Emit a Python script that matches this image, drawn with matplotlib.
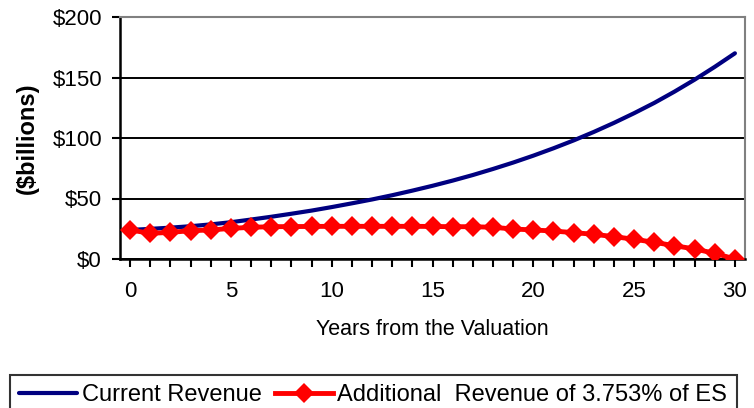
import numpy as np
import matplotlib.pyplot as plt
from matplotlib.ticker import FuncFormatter

plt.rcParams['font.family'] = ['Liberation Sans', 'DejaVu Sans']

years = list(range(31))
current_revenue = [24.0, 24.9, 25.9, 27.1, 28.6, 30.4, 32.6, 34.9, 37.4, 40.0,
                   42.9, 46.0, 49.2, 52.7, 56.5, 60.5, 64.8, 69.4, 74.4, 79.7,
                   85.4, 91.5, 98.0, 105.0, 112.5, 120.5, 129.0, 138.3, 148.2, 158.8,
                   170.0]
additional_revenue = [24.0, 21.2, 22.0, 23.4, 24.0, 25.3, 26.2, 26.7, 26.8, 26.9,
                      27.0, 27.0, 27.0, 27.0, 27.0, 26.9, 26.7, 26.7, 26.2, 24.8,
                      24.0, 23.1, 21.8, 20.4, 18.5, 16.3, 13.8, 11.0, 8.3, 4.7,
                      0.0]

fig = plt.figure(figsize=(7.54, 4.08), dpi=100)
ax = fig.add_axes([120 / 754, 1 - 259 / 408, 625 / 754, 242 / 408])

ax.plot(years, current_revenue, color='#000080', lw=3, solid_capstyle='round',
        label='Current Revenue', zorder=3)
ax.plot(years, additional_revenue, color='#ff0000', lw=3.5, marker='D', markersize=10,
        markeredgewidth=0, label='Additional  Revenue of 3.753% of ES', zorder=4)

ax.set_xlim(-0.5, 30.5)
ax.set_ylim(0, 200)
ax.set_yticks([0, 50, 100, 150, 200])
ax.yaxis.set_major_formatter(FuncFormatter(lambda v, p: '$%d' % v))
ax.set_xticks([0, 5, 10, 15, 20, 25, 30])
ax.set_xticks(years, minor=True)
ax.grid(axis='y', color='black', lw=1.4)
ax.set_axisbelow(True)

ax.tick_params(axis='y', which='major', direction='out', length=6, width=1.5,
               labelsize=16, pad=7)
ax.tick_params(axis='x', which='both', direction='out', length=6, width=1.5,
               labelsize=16, pad=10)

for s in ['left', 'bottom']:
    ax.spines[s].set_color('black')
    ax.spines[s].set_linewidth(1.8)
for s in ['top', 'right']:
    ax.spines[s].set_color('#808080')
    ax.spines[s].set_linewidth(1.5)

ax.set_xlabel('Years from the Valuation', fontsize=15.5, labelpad=12)
ax.set_ylabel('($billions)', fontsize=17, fontweight='bold', labelpad=10)

leg = fig.legend(loc='upper left', bbox_to_anchor=(10 / 754, 1 - 375 / 408), ncol=2,
                 fontsize=17, frameon=True, fancybox=False, borderaxespad=0,
                 handlelength=2.45, handletextpad=0.2, columnspacing=0.55, borderpad=0.4)
leg.get_frame().set_edgecolor('black')
leg.get_frame().set_linewidth(1.5)

fig.savefig('out.png', dpi=100)
